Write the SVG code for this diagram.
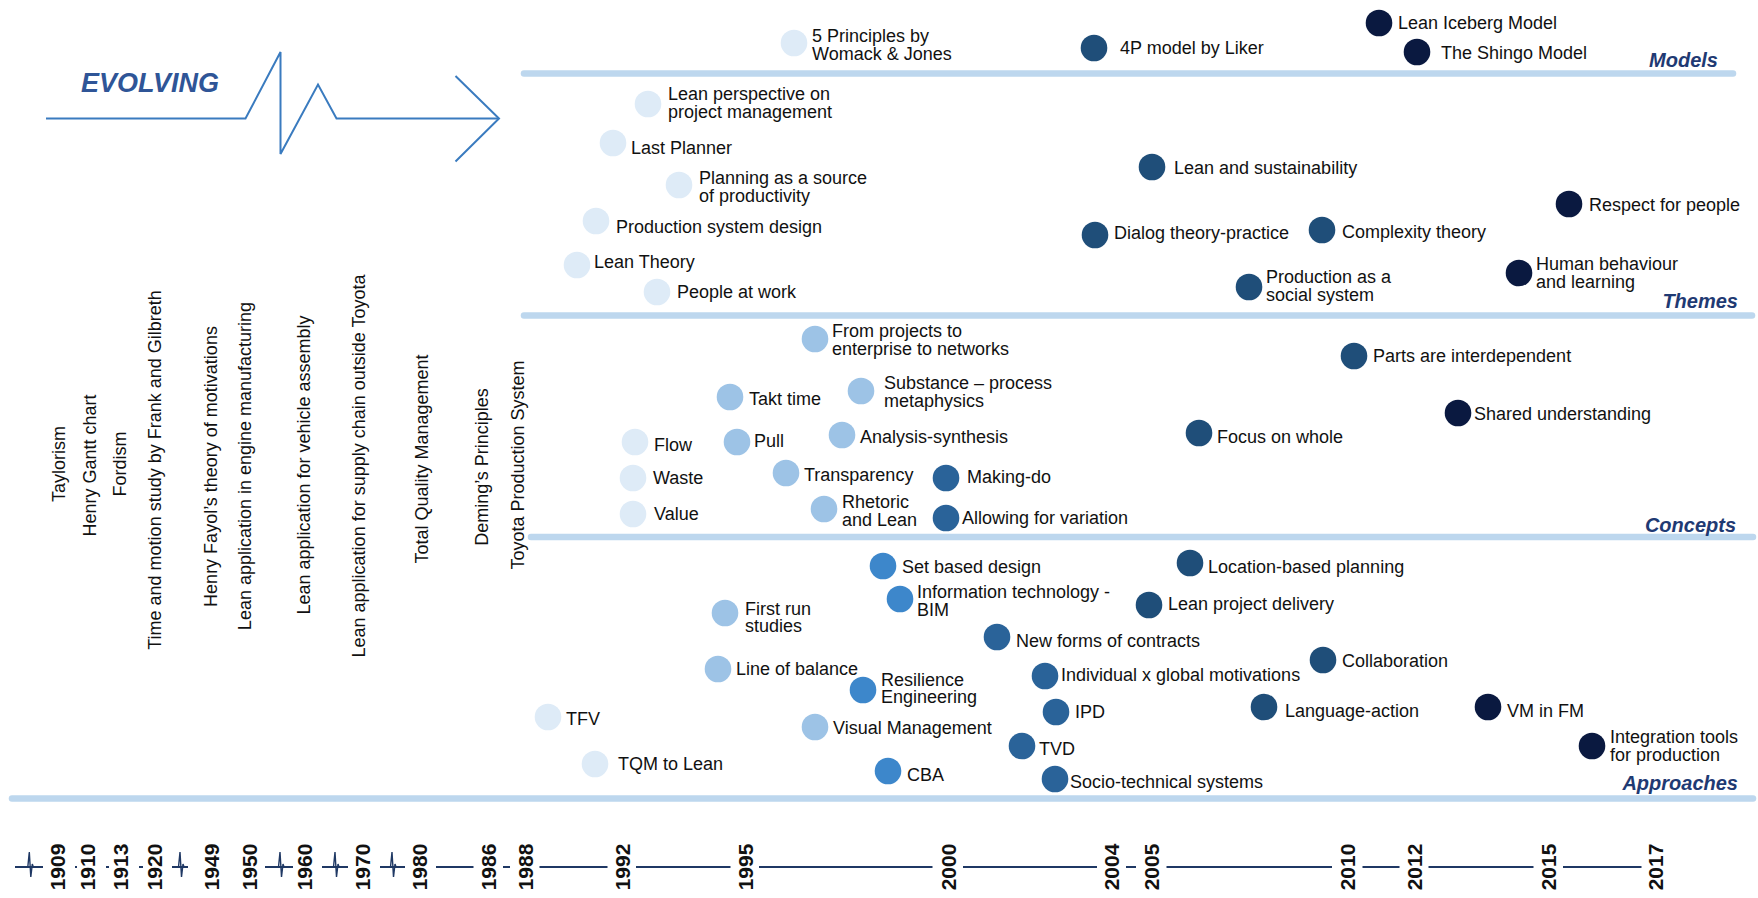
<svg xmlns="http://www.w3.org/2000/svg" width="1758" height="898" viewBox="0 0 1758 898">
  <style>
    .band { stroke: #BDD7EE; stroke-width: 6.5; stroke-linecap: round; fill: none; }
    .lbl { font-family: "Liberation Sans", Arial, sans-serif; font-size: 18px; fill: #111; }
    .vlbl { font-family: "Liberation Sans", Arial, sans-serif; font-size: 18px; fill: #111; text-anchor: middle; }
    .cat { font-family: "Liberation Sans", Arial, sans-serif; font-size: 20px; font-weight: bold; font-style: italic; fill: #1F3A73; text-anchor: end; }
    .yr { font-family: "Liberation Sans", Arial, sans-serif; font-size: 21px; font-weight: bold; fill: #111; text-anchor: middle; }
    .tl { stroke: #1F3864; stroke-width: 2; fill: none; }
    .pulse { stroke: #1F3864; stroke-width: 1.4; fill: none; stroke-linejoin: miter; }
    .evo { stroke: #3A7BBF; stroke-width: 2; fill: none; stroke-linejoin: miter; }
    .c1 { fill: #DEEBF7; }
    .c2 { fill: #9DC3E6; }
    .c3 { fill: #3D87CB; }
    .c4 { fill: #2A6399; }
    .c5 { fill: #1F4E79; }
    .c6 { fill: #0A1940; }
  </style>
  <defs>
    <!-- pulse-shaped break mark on the time axis, centred on its spike -->
    <path id="pulse" class="pulse" d="M-1.5,0 L0,-15 L1.5,10 L3,-3 L4,0"/>
  </defs>

  <rect width="1758" height="898" fill="#ffffff"/>

  <!-- EVOLVING arrow -->
  <g id="evolving">
    <text x="81" y="92" font-family="Liberation Sans, Arial, sans-serif" font-size="27" font-weight="bold" font-style="italic" fill="#2F5597">EVOLVING</text>
    <path class="evo" d="M46,118.5 H245.5 L280.5,52 V154 L318,84.5 L336.5,118.5 H499"/>
    <path class="evo" d="M455.5,76 L499,118.5 L455.5,161.5"/>
  </g>

  <!-- category bands -->
  <g id="bands">
    <line class="band" x1="524" y1="73.5" x2="1733" y2="73.5"/>
    <line class="band" x1="524" y1="315.5" x2="1752" y2="315.5"/>
    <line class="band" x1="531" y1="537" x2="1753" y2="537"/>
    <line class="band" x1="12" y1="798.5" x2="1753" y2="798.5"/>
    <text class="cat" x="1718" y="66.5">Models</text>
    <text class="cat" x="1738" y="308">Themes</text>
    <text class="cat" x="1736" y="531.5">Concepts</text>
    <text class="cat" x="1738" y="790">Approaches</text>
  </g>

  <!-- early milestones, vertical -->
  <g id="milestones">
    <text class="vlbl" transform="translate(65,464) rotate(-90)">Taylorism</text>
    <text class="vlbl" transform="translate(95.5,465.5) rotate(-90)">Henry Gantt chart</text>
    <text class="vlbl" transform="translate(126,464) rotate(-90)">Fordism</text>
    <text class="vlbl" transform="translate(161,470) rotate(-90)">Time and motion study by Frank and Gilbreth</text>
    <text class="vlbl" transform="translate(217,466.5) rotate(-90)">Henry Fayol’s theory of motivations</text>
    <text class="vlbl" transform="translate(251,466) rotate(-90)">Lean application in engine manufacturing</text>
    <text class="vlbl" transform="translate(310,465) rotate(-90)">Lean application for vehicle assembly</text>
    <text class="vlbl" transform="translate(365,466) rotate(-90)">Lean application for supply chain outside Toyota</text>
    <text class="vlbl" transform="translate(428,459) rotate(-90)">Total Quality Management</text>
    <text class="vlbl" transform="translate(488,467) rotate(-90)">Deming’s Principles</text>
    <text class="vlbl" transform="translate(524,465) rotate(-90)">Toyota Production System</text>
  </g>

  <!-- Models -->
  <g id="m-womack"><circle class="c1" cx="794" cy="43" r="13.3"/><text class="lbl" x="812"><tspan x="812" y="41.5">5 Principles by</tspan><tspan x="812" y="60">Womack &amp; Jones</tspan></text></g>
  <g id="m-4p"><circle class="c5" cx="1094" cy="48" r="13.3"/><text class="lbl" x="1120" y="53.5">4P model by Liker</text></g>
  <g id="m-iceberg"><circle class="c6" cx="1379" cy="23" r="13.3"/><text class="lbl" x="1398" y="28.5">Lean Iceberg Model</text></g>
  <g id="m-shingo"><circle class="c6" cx="1417" cy="52" r="13.3"/><text class="lbl" x="1441" y="59">The Shingo Model</text></g>

  <!-- Themes -->
  <g id="t-project"><circle class="c1" cx="648" cy="104" r="13.3"/><text class="lbl"><tspan x="668" y="99.5">Lean perspective on</tspan><tspan x="668" y="117.5">project management</tspan></text></g>
  <g id="t-lastplanner"><circle class="c1" cx="613" cy="143" r="13.3"/><text class="lbl" x="631" y="154">Last Planner</text></g>
  <g id="t-planning"><circle class="c1" cx="679" cy="185" r="13.3"/><text class="lbl"><tspan x="699" y="184">Planning as a source</tspan><tspan x="699" y="202">of productivity</tspan></text></g>
  <g id="t-psd"><circle class="c1" cx="596" cy="221" r="13.3"/><text class="lbl" x="616" y="233">Production system design</text></g>
  <g id="t-theory"><circle class="c1" cx="577" cy="265" r="13.3"/><text class="lbl" x="594" y="268">Lean Theory</text></g>
  <g id="t-people"><circle class="c1" cx="657" cy="292" r="13.3"/><text class="lbl" x="677" y="298">People at work</text></g>
  <g id="t-sustain"><circle class="c5" cx="1152" cy="167" r="13.3"/><text class="lbl" x="1174" y="174">Lean and sustainability</text></g>
  <g id="t-dialog"><circle class="c5" cx="1095" cy="235" r="13.3"/><text class="lbl" x="1114" y="238.5">Dialog theory-practice</text></g>
  <g id="t-complexity"><circle class="c5" cx="1322" cy="230" r="13.3"/><text class="lbl" x="1342" y="238">Complexity theory</text></g>
  <g id="t-social"><circle class="c5" cx="1249" cy="287" r="13.3"/><text class="lbl"><tspan x="1266" y="283">Production as a</tspan><tspan x="1266" y="301">social system</tspan></text></g>
  <g id="t-respect"><circle class="c6" cx="1569" cy="204" r="13.3"/><text class="lbl" x="1589" y="210.5">Respect for people</text></g>
  <g id="t-human"><circle class="c6" cx="1519" cy="273" r="13.3"/><text class="lbl"><tspan x="1536" y="270">Human behaviour</tspan><tspan x="1536" y="288">and learning</tspan></text></g>

  <!-- Concepts -->
  <g id="k-networks"><circle class="c2" cx="815" cy="339" r="13.3"/><text class="lbl"><tspan x="832" y="337">From projects to</tspan><tspan x="832" y="355">enterprise to networks</tspan></text></g>
  <g id="k-takt"><circle class="c2" cx="730" cy="397" r="13.3"/><text class="lbl" x="749" y="405">Takt time</text></g>
  <g id="k-substance"><circle class="c2" cx="861" cy="391" r="13.3"/><text class="lbl"><tspan x="884" y="389">Substance – process</tspan><tspan x="884" y="406.5">metaphysics</tspan></text></g>
  <g id="k-flow"><circle class="c1" cx="635" cy="442" r="13.3"/><text class="lbl" x="654" y="451">Flow</text></g>
  <g id="k-pull"><circle class="c2" cx="737" cy="442" r="13.3"/><text class="lbl" x="754" y="447">Pull</text></g>
  <g id="k-analysis"><circle class="c2" cx="842" cy="435" r="13.3"/><text class="lbl" x="860" y="442.5">Analysis-synthesis</text></g>
  <g id="k-waste"><circle class="c1" cx="633" cy="478" r="13.3"/><text class="lbl" x="653" y="484">Waste</text></g>
  <g id="k-transparency"><circle class="c2" cx="786" cy="473" r="13.3"/><text class="lbl" x="804" y="480.5">Transparency</text></g>
  <g id="k-makingdo"><circle class="c4" cx="946" cy="478" r="13.3"/><text class="lbl" x="967" y="483">Making-do</text></g>
  <g id="k-value"><circle class="c1" cx="633" cy="514" r="13.3"/><text class="lbl" x="654" y="519.5">Value</text></g>
  <g id="k-rhetoric"><circle class="c2" cx="824" cy="509" r="13.3"/><text class="lbl"><tspan x="842" y="508">Rhetoric</tspan><tspan x="842" y="526">and Lean</tspan></text></g>
  <g id="k-variation"><circle class="c4" cx="946" cy="518" r="13.3"/><text class="lbl" x="962" y="523.5">Allowing for variation</text></g>
  <g id="k-parts"><circle class="c5" cx="1354" cy="356" r="13.3"/><text class="lbl" x="1373" y="361.5">Parts are interdependent</text></g>
  <g id="k-whole"><circle class="c5" cx="1199" cy="433" r="13.3"/><text class="lbl" x="1217" y="442.5">Focus on whole</text></g>
  <g id="k-shared"><circle class="c6" cx="1458" cy="413" r="13.3"/><text class="lbl" x="1474" y="419.5">Shared understanding</text></g>

  <!-- Approaches -->
  <g id="a-setbased"><circle class="c3" cx="883" cy="566" r="13.3"/><text class="lbl" x="902" y="573">Set based design</text></g>
  <g id="a-bim"><circle class="c3" cx="900" cy="599" r="13.3"/><text class="lbl"><tspan x="917" y="598">Information technology -</tspan><tspan x="917" y="616">BIM</tspan></text></g>
  <g id="a-firstrun"><circle class="c2" cx="725" cy="613" r="13.3"/><text class="lbl"><tspan x="745" y="615">First run</tspan><tspan x="745" y="632">studies</tspan></text></g>
  <g id="a-location"><circle class="c5" cx="1190" cy="563" r="13.3"/><text class="lbl" x="1208" y="573">Location-based planning</text></g>
  <g id="a-lpd"><circle class="c5" cx="1149" cy="605" r="13.3"/><text class="lbl" x="1168" y="610">Lean project delivery</text></g>
  <g id="a-contracts"><circle class="c4" cx="997" cy="637" r="13.3"/><text class="lbl" x="1016" y="646.5">New forms of contracts</text></g>
  <g id="a-lob"><circle class="c2" cx="718" cy="669" r="13.3"/><text class="lbl" x="736" y="675">Line of balance</text></g>
  <g id="a-resilience"><circle class="c3" cx="863" cy="690" r="13.3"/><text class="lbl"><tspan x="881" y="686">Resilience</tspan><tspan x="881" y="703">Engineering</tspan></text></g>
  <g id="a-motivations"><circle class="c4" cx="1045" cy="676" r="13.3"/><text class="lbl" x="1061" y="680.5">Individual x global motivations</text></g>
  <g id="a-collab"><circle class="c5" cx="1323" cy="660" r="13.3"/><text class="lbl" x="1342" y="666.5">Collaboration</text></g>
  <g id="a-tfv"><circle class="c1" cx="548" cy="717" r="13.3"/><text class="lbl" x="566" y="725">TFV</text></g>
  <g id="a-ipd"><circle class="c4" cx="1056" cy="712" r="13.3"/><text class="lbl" x="1075" y="718">IPD</text></g>
  <g id="a-language"><circle class="c5" cx="1264" cy="707" r="13.3"/><text class="lbl" x="1285" y="716.5">Language-action</text></g>
  <g id="a-vmfm"><circle class="c6" cx="1488" cy="707" r="13.3"/><text class="lbl" x="1507" y="716.5">VM in FM</text></g>
  <g id="a-visual"><circle class="c2" cx="815" cy="727" r="13.3"/><text class="lbl" x="833" y="734">Visual Management</text></g>
  <g id="a-tvd"><circle class="c4" cx="1022" cy="746" r="13.3"/><text class="lbl" x="1039" y="755">TVD</text></g>
  <g id="a-integration"><circle class="c6" cx="1592" cy="746" r="13.3"/><text class="lbl"><tspan x="1610" y="743">Integration tools</tspan><tspan x="1610" y="761">for production</tspan></text></g>
  <g id="a-tqm"><circle class="c1" cx="595" cy="764" r="13.3"/><text class="lbl" x="618" y="770">TQM to Lean</text></g>
  <g id="a-cba"><circle class="c3" cx="888" cy="771" r="13.3"/><text class="lbl" x="907" y="780.5">CBA</text></g>
  <g id="a-sociotech"><circle class="c4" cx="1055" cy="779" r="13.3"/><text class="lbl" x="1070" y="788">Socio-technical systems</text></g>

  <!-- time axis -->
  <g id="connectors" class="tl">
    <line x1="15" y1="867" x2="43" y2="867"/>
    <use href="#pulse" x="29.3" y="867"/>
    <line x1="75" y1="867" x2="77" y2="867"/>
    <line x1="106" y1="867" x2="109" y2="867"/>
    <line x1="139" y1="867" x2="143" y2="867"/>
    <line x1="172" y1="867" x2="188" y2="867"/>
    <use href="#pulse" x="180" y="867"/>
    <line x1="265" y1="867" x2="293" y2="867"/>
    <use href="#pulse" x="280" y="867"/>
    <line x1="322" y1="867" x2="348" y2="867"/>
    <use href="#pulse" x="335" y="867"/>
    <line x1="380" y1="867" x2="405" y2="867"/>
    <use href="#pulse" x="392" y="867"/>
    <line x1="436" y1="867" x2="473.5" y2="867"/>
    <line x1="503" y1="867" x2="510" y2="867"/>
    <line x1="539.5" y1="867" x2="607.5" y2="867"/>
    <line x1="636" y1="867" x2="730.5" y2="867"/>
    <line x1="759" y1="867" x2="932.5" y2="867"/>
    <line x1="963" y1="867" x2="1097" y2="867"/>
    <line x1="1126" y1="867" x2="1136" y2="867"/>
    <line x1="1166.5" y1="867" x2="1332" y2="867"/>
    <line x1="1362.5" y1="867" x2="1399.5" y2="867"/>
    <line x1="1428.5" y1="867" x2="1533.5" y2="867"/>
    <line x1="1563" y1="867" x2="1641.5" y2="867"/>
  </g>

  <g id="years">
    <text class="yr" transform="translate(65,867) rotate(-90)">1909</text>
    <text class="yr" transform="translate(95,867) rotate(-90)">1910</text>
    <text class="yr" transform="translate(128,867) rotate(-90)">1913</text>
    <text class="yr" transform="translate(161.5,867) rotate(-90)">1920</text>
    <text class="yr" transform="translate(219,867) rotate(-90)">1949</text>
    <text class="yr" transform="translate(256.5,867) rotate(-90)">1950</text>
    <text class="yr" transform="translate(311.5,867) rotate(-90)">1960</text>
    <text class="yr" transform="translate(369.5,867) rotate(-90)">1970</text>
    <text class="yr" transform="translate(426.5,867) rotate(-90)">1980</text>
    <text class="yr" transform="translate(495.5,867) rotate(-90)">1986</text>
    <text class="yr" transform="translate(532.5,867) rotate(-90)">1988</text>
    <text class="yr" transform="translate(629.5,867) rotate(-90)">1992</text>
    <text class="yr" transform="translate(752.5,867) rotate(-90)">1995</text>
    <text class="yr" transform="translate(955.5,867) rotate(-90)">2000</text>
    <text class="yr" transform="translate(1119,867) rotate(-90)">2004</text>
    <text class="yr" transform="translate(1158.5,867) rotate(-90)">2005</text>
    <text class="yr" transform="translate(1354.5,867) rotate(-90)">2010</text>
    <text class="yr" transform="translate(1421.5,867) rotate(-90)">2012</text>
    <text class="yr" transform="translate(1555.5,867) rotate(-90)">2015</text>
    <text class="yr" transform="translate(1662.5,867) rotate(-90)">2017</text>
  </g>
</svg>
